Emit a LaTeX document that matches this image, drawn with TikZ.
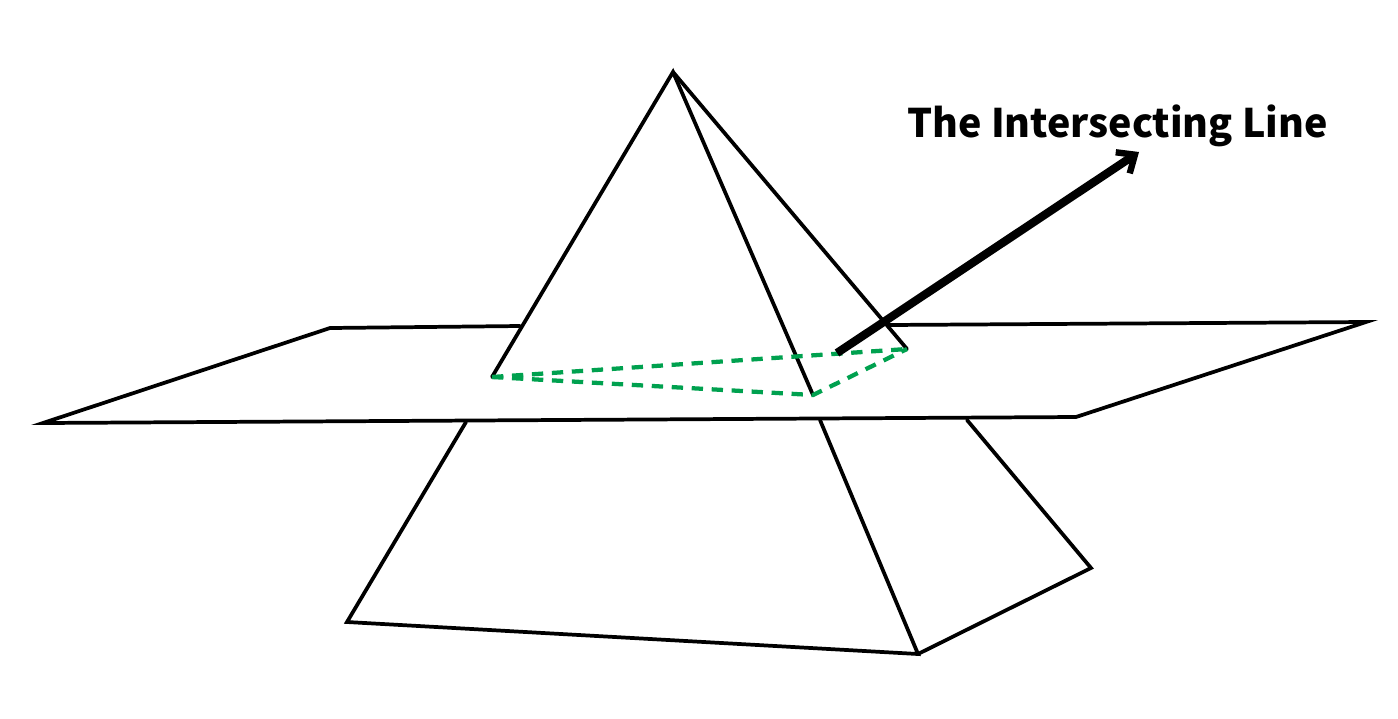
\documentclass[tikz,border=0pt]{standalone}
\usepackage{fontspec}
\newfontfamily\labelfont{Noto Sans CJK SC Black}
\usetikzlibrary{arrows.meta}
\definecolor{dashgreen}{HTML}{00A14F}
\tikzset{
  edge/.style={draw=black,line width=2.8pt,line join=miter,line cap=round},
  hidden/.style={draw=dashgreen,line width=3.2pt,dash pattern=on 8.5pt off 6.5pt},
  pointer/.style={draw=black,line width=6.2pt,-{Straight Barb[length=11pt,width=19pt,line width=4.8pt]}},
  caption/.style={font=\labelfont\fontsize{29.5pt}{36pt}\selectfont,text=black,inner sep=0pt,anchor=center}
}
\begin{document}
\begin{tikzpicture}[x=0.75pt,y=-0.75pt]
\useasboundingbox (0,0) rectangle (1398,718);
\coordinate (apex) at (673,72);
\coordinate (ba) at (492,377);
\coordinate (bb) at (813,395);
\coordinate (bc) at (907,349);
\coordinate (pa) at (330,328);
\coordinate (pa2) at (520,326);
\coordinate (pb2) at (888,325);
\coordinate (pb) at (1366,322);
\coordinate (pc) at (1076,417);
\coordinate (pd) at (43,423);
\coordinate (la) at (466,422);
\coordinate (lb) at (347,622);
\coordinate (lc) at (918,654);
\coordinate (ld) at (820,420);
\coordinate (le) at (1091,568);
\coordinate (lf) at (967,420);
\coordinate (ps) at (837,353);
\coordinate (pe) at (1139,152);
\draw[edge] (pa2) -- (pa) -- (pd) -- (pc) -- (pb) -- (pb2);
\draw[edge] (ba) -- (apex) -- (bb);
\draw[edge] (apex) -- (bc);
\draw[edge] (la) -- (lb) -- (lc) -- (ld);
\draw[edge] (lc) -- (le) -- (lf);
\draw[hidden] (ba) -- (bc);
\draw[hidden] (ba) -- (bb) -- (bc);
\draw[pointer] (ps) -- (pe);
\node[caption] (title) at (1117.5,126) {The Intersecting Line};
\end{tikzpicture}
\end{document}
